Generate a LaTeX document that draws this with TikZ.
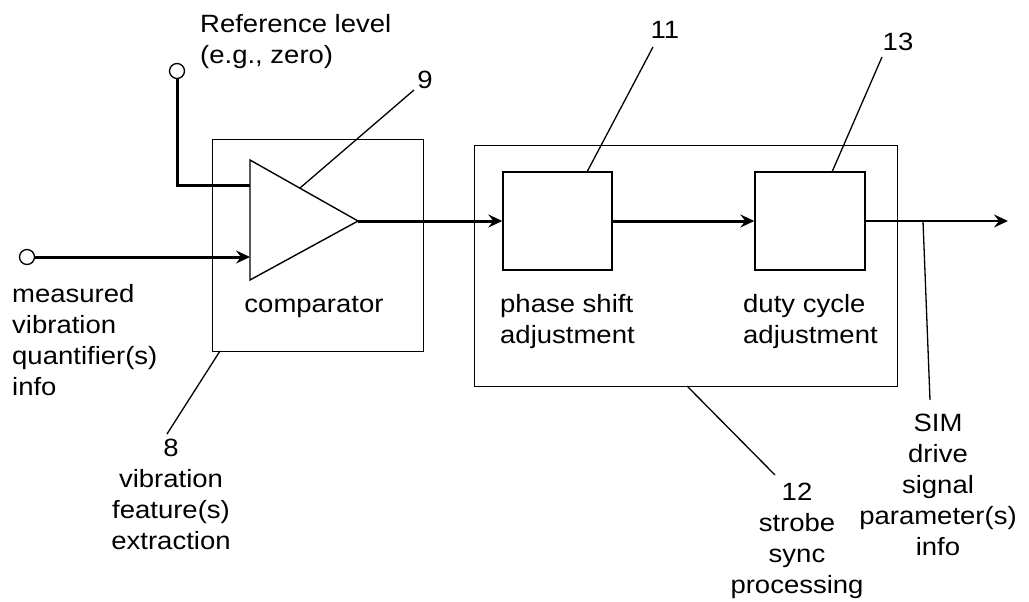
\documentclass[tikz,border=0pt]{standalone}
\usepackage{fontspec}
\setmainfont{Liberation Sans}[FakeStretch=1.1]
\usetikzlibrary{arrows.meta}
\begin{document}
\begin{tikzpicture}[x=1pt,y=-1pt,
  lbl/.style={inner sep=0pt,font=\fontsize{25}{31}\selectfont},
  blk/.style={draw,line width=1.4pt,inner sep=0pt},
  sig/.style={line width=3pt},
  arr/.style={-{Stealth[length=14pt,width=13pt,inset=5pt]}},
  lead/.style={line width=1.3pt},
  port/.style={circle,draw,line width=1.3pt,minimum size=15pt,inner sep=0pt,fill=white}]
\useasboundingbox[fill=white] (0,0) rectangle (1029,602);
% blocks
\node[blk,anchor=north west,minimum width=211pt,minimum height=212pt] (b8) at (212,139) {};
\node[blk,anchor=north west,minimum width=423pt,minimum height=241pt] (b12) at (474,145) {};
\node[blk,minimum width=109pt,minimum height=98pt] (b11) at (557.5,221) {};
\node[blk,minimum width=110pt,minimum height=98pt] (b13) at (810,221) {};
% comparator triangle
\coordinate (ta) at (250,160);
\coordinate (tb) at (250,280);
\coordinate (tc) at (358,221);
\coordinate (tin1) at (250,185);
\coordinate (tin2) at (250,257);
\draw[line width=1.4pt,line join=miter] (ta) -- (tc) -- (tb) -- cycle;
% ports
\node[port] (refc) at (177,71) {};
\node[port] (inc) at (27,257) {};
% signals
\draw[sig] (refc.south) |- (tin1);
\draw[sig,arr] (inc.east) -- (tin2);
\draw[sig,arr] (tc) -- (b11.west);
\draw[sig,arr] (b11.east) -- (b13.west);
\coordinate (out) at (1008,221);
\draw[line width=2.2pt,arr] (b13.east) -- (out);
% leaders
\coordinate (l9a) at (300,188); \coordinate (l9b) at (414,90);
\draw[lead] (l9a) -- (l9b);
\coordinate (l11a) at (587,172); \coordinate (l11b) at (653,47);
\draw[lead] (l11a) -- (l11b);
\coordinate (l13a) at (832,172); \coordinate (l13b) at (882,57);
\draw[lead] (l13a) -- (l13b);
\coordinate (l12a) at (687,386); \coordinate (l12b) at (775,475);
\draw[lead] (l12a) -- (l12b);
\coordinate (l8a) at (220,351); \coordinate (l8b) at (167,434);
\draw[lead] (l8a) -- (l8b);
\coordinate (lsa) at (923,221); \coordinate (lsb) at (930,400);
\draw[lead] (lsa) -- (lsb);
% labels
\node[lbl,anchor=north west,align=left] (tref) at (200,14) {Reference level\\(e.g., zero)};
\node[lbl,anchor=north west,align=left] (tmeas) at (12,284) {measured\\vibration\\quantifier(s)\\info};
\node[lbl,anchor=base] (tcomp) at (314,312) {comparator};
\node[lbl,anchor=north west,align=left] (tphase) at (500,294) {phase shift\\adjustment};
\node[lbl,anchor=north west,align=left] (tduty) at (743,294) {duty cycle\\adjustment};
\node[lbl] (t9) at (425,80) {9};
\node[lbl] (t11) at (665,30) {11};
\node[lbl] (t13) at (898,42) {13};
\node[lbl,anchor=north,align=center] (t8) at (171,439) {8\\vibration\\feature(s)\\extraction};
\node[lbl,anchor=north,align=center] (t12) at (797,483) {12\\strobe\\sync\\processing};
\node[lbl,anchor=north,align=center] (tsim) at (938,414) {SIM\\drive\\signal\\parameter(s)\\info};
\end{tikzpicture}
\end{document}
